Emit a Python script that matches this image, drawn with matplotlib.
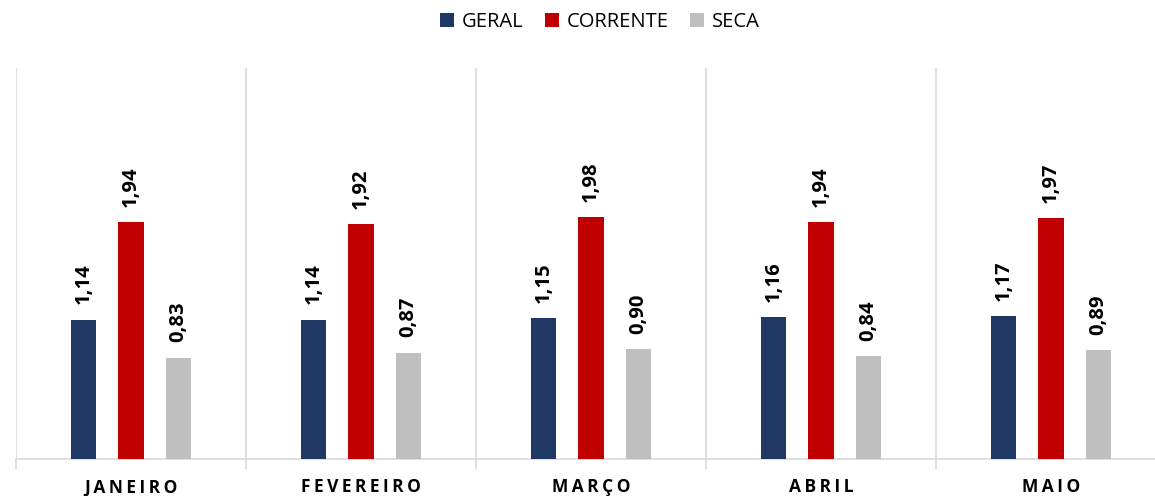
import matplotlib
matplotlib.use("Agg")
import matplotlib.pyplot as plt
import numpy as np

categories = ["JANEIRO", "FEVEREIRO", "MARÇO", "ABRIL", "MAIO"]
series_names = ["GERAL", "CORRENTE", "SECA"]
geral = [1.14, 1.14, 1.15, 1.16, 1.17]
corrente = [1.94, 1.92, 1.98, 1.94, 1.97]
seca = [0.83, 0.87, 0.90, 0.84, 0.89]
colors = ["#203864", "#C00000", "#BFBFBF"]

plt.rcParams['font.family'] = ['Open Sans', 'DejaVu Sans']

W, H = 1155, 496
fig = plt.figure(figsize=(W/100, H/100), dpi=100)
ax = fig.add_axes([16/W, (H-459)/H, 1150/W, 391/H])

x = np.arange(len(categories))
bw = 0.109
gap = 0.207
data = [geral, corrente, seca]
for i, (name, vals, c) in enumerate(zip(series_names, data, colors)):
    pos = x + (i - 1) * gap
    ax.bar(pos, vals, width=bw, color=c, label=name, zorder=3)
    for p, v in zip(pos, vals):
        ax.annotate(f"{v:.2f}".replace(".", ","), (p, v), xytext=(0, 11),
                    textcoords="offset points", rotation=90, ha="center", va="bottom",
                    fontsize=14.5, fontweight="bold", color="#000000")

ax.set_xlim(-0.5, len(categories) - 0.5)
ax.set_ylim(0, 3.2)
ax.set_yticks([])
for s in ["top", "right", "left"]:
    ax.spines[s].set_visible(False)
ax.spines["bottom"].set_color("#D9D9D9")
ax.spines["bottom"].set_linewidth(1.2)

for b in np.arange(-0.5, len(categories) + 0.5, 1.0):
    ax.axvline(b, ymin=0, ymax=1, color="#D9D9D9", lw=1.2, zorder=1)
ax.set_xticks(np.arange(-0.5, len(categories) + 0.5, 1.0), minor=True)
ax.tick_params(axis="x", which="minor", length=7, color="#D9D9D9", width=1.2)
ax.set_xticks(x)
ax.set_xticklabels(["\u2009".join(list(c)) for c in categories], fontsize=12.5,
                   fontweight="bold", color="#000000")
ax.tick_params(axis="x", which="major", length=0, pad=14)

handles, labels = ax.get_legend_handles_labels()
fig.legend(handles, labels, loc="center", bbox_to_anchor=(600/W, 1 - 22/H), ncol=3,
           frameon=False, fontsize=14.5, handlelength=0.7, handleheight=0.7,
           handletextpad=0.4, columnspacing=1.05)

fig.savefig("out.png", dpi=100)
